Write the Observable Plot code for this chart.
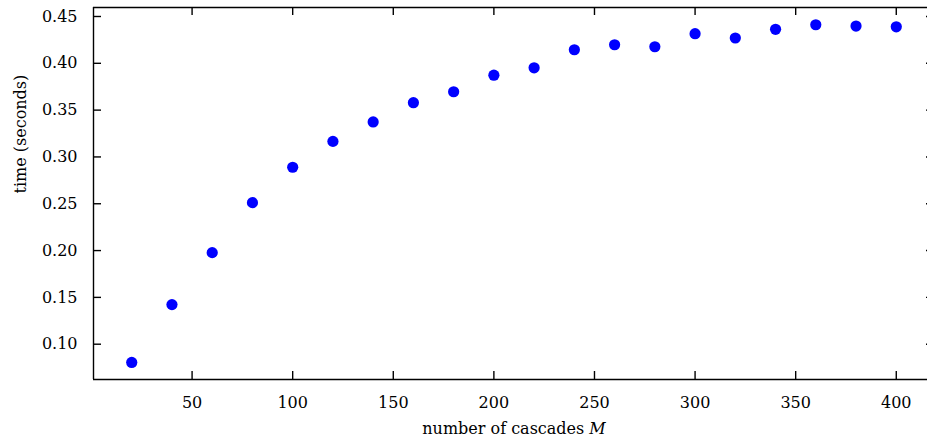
<!DOCTYPE html>
<html>
<head>
<meta charset="utf-8">
<script src="https://cdn.jsdelivr.net/npm/d3@7"></script>
<script src="https://cdn.jsdelivr.net/npm/@observablehq/plot@0.6"></script>
<style>
  html, body { margin: 0; padding: 0; background: #fff; }
</style>
</head>
<body>
<div id="chart"></div>
<script>
const cascades = [20, 40, 60, 80, 100, 120, 140, 160, 180, 200, 220, 240, 260, 280, 300, 320, 340, 360, 380, 400];
const times = [0.0805, 0.1423, 0.1978, 0.2512, 0.2890, 0.3166, 0.3374, 0.3579, 0.3696, 0.3873, 0.3952, 0.4145, 0.4198, 0.4177, 0.4316, 0.4270, 0.4363, 0.4412, 0.4398, 0.4390];
const xTicks = [50, 100, 150, 200, 250, 300, 350, 400];
const yTicks = [0.10, 0.15, 0.20, 0.25, 0.30, 0.35, 0.40, 0.45];
const xDomain = [1, 419];
const yDomain = [0.0623, 0.4596];
const xLabel = "number of cascades ";
const xLabelVar = "M";
const yLabel = "time (seconds)";

const data = cascades.map((m, i) => ({m, t: times[i]}));

const W = 927, H = 440;
const mL = 93, mR = -7, mT = 7, mB = 61;
const pw = W - mL - mR, ph = H - mT - mB;
const tick = 8;
const sw = 1.4;

const chart = Plot.plot({
  width: W,
  height: H,
  marginLeft: mL,
  marginRight: mR,
  marginTop: mT,
  marginBottom: mB,
  style: {fontFamily: "DejaVu Serif", fontSize: "16px", background: "#fff", color: "#000", overflow: "visible"},
  x: {domain: xDomain},
  y: {domain: yDomain},
  marks: [
    Plot.axisX(xTicks, {tickSize: 0, tickPadding: 17, label: null, fontSize: 16}),
    Plot.axisY(yTicks, {tickSize: 0, tickPadding: 16, tickFormat: d3.format(".2f"), label: null, fontSize: 16}),
    Plot.ruleX(xTicks, {insetTop: ph - tick, stroke: "#000", strokeWidth: sw}),
    Plot.ruleX(xTicks, {insetBottom: ph - tick, stroke: "#000", strokeWidth: sw}),
    Plot.ruleY(yTicks, {insetRight: pw - tick, stroke: "#000", strokeWidth: sw}),
    Plot.ruleY(yTicks, {insetLeft: pw - tick, stroke: "#000", strokeWidth: sw}),
    Plot.ruleY([yDomain[1]], {stroke: "#000", strokeWidth: sw}),
    Plot.ruleY([yDomain[0]], {stroke: "#000", strokeWidth: sw}),
    Plot.ruleX([xDomain[0]], {stroke: "#000", strokeWidth: sw}),
    Plot.ruleX([xDomain[1]], {stroke: "#000", strokeWidth: sw}),
    Plot.dot(data, {x: "m", y: "t", r: 5.6, fill: "#0000ff", stroke: null}),
    Plot.text([xLabel + xLabelVar], {frameAnchor: "bottom", dy: 49, lineAnchor: "middle", fontSize: 16, fill: "#000"}),
    Plot.text([yLabel], {frameAnchor: "left", dx: -73, rotate: -90, lineAnchor: "middle", fontSize: 16, fill: "#000"})
  ]
});

d3.select(chart).selectAll("text").filter(function() {
  return this.textContent === xLabel + xLabelVar;
}).each(function() {
  const el = d3.select(this);
  el.text(xLabel);
  el.append("tspan").attr("font-style", "italic").text(xLabelVar);
});

document.getElementById("chart").appendChild(chart);
</script>
</body>
</html>
